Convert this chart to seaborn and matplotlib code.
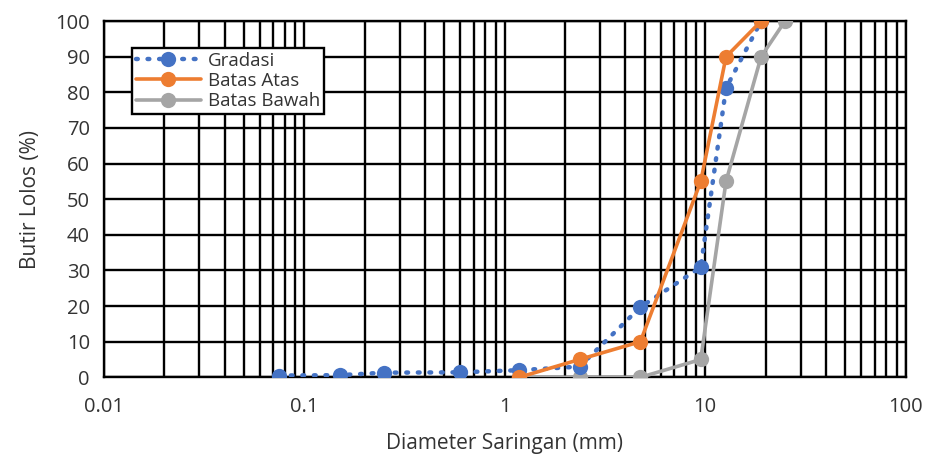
import matplotlib
matplotlib.use("Agg")
import matplotlib.pyplot as plt
import seaborn as sns
import numpy as np
import pandas as pd
from matplotlib.ticker import LogLocator, FixedLocator, FuncFormatter

# sieve sizes (mm) and passing percentages
gradasi_d = [0.075, 0.15, 0.25, 0.6, 1.18, 2.36, 4.75, 9.5, 12.7, 19.0]
gradasi_p = [0.5, 0.6, 1.3, 1.4, 2.0, 3.0, 19.7, 30.9, 81.2, 100.0]

atas_d = [1.18, 2.36, 4.75, 9.5, 12.7, 19.0]
atas_p = [0, 5, 10, 55, 90, 100]

bawah_d = [1.18, 2.36, 4.75, 9.5, 12.7, 19.0, 25.0]
bawah_p = [0, 0, 0, 5, 55, 90, 100]

sns.set_style("white")
plt.rcParams['font.family'] = ['Open Sans', 'DejaVu Sans']

fig, ax = plt.subplots(figsize=(9.27, 4.59), dpi=100)
fig.subplots_adjust(left=0.112, right=0.977, top=0.954, bottom=0.178)

blue = "#4472C4"
orange = "#ED7D31"
gray = "#A5A5A5"
txt = "#333333"

sns.lineplot(x=bawah_d, y=bawah_p, ax=ax, color=gray, linewidth=2.6, marker='o',
             markersize=11, markeredgewidth=0, sort=False, label="Batas Bawah", zorder=3)
sns.lineplot(x=gradasi_d, y=gradasi_p, ax=ax, color=blue, linewidth=3.2, marker='o',
             markersize=11, markeredgewidth=0, sort=False, label="Gradasi",
             linestyle=(0, (0.4, 2.2)), dash_capstyle='round', zorder=4)
sns.lineplot(x=atas_d, y=atas_p, ax=ax, color=orange, linewidth=2.6, marker='o',
             markersize=11, markeredgewidth=0, sort=False, label="Batas Atas", zorder=5)

ax.set_xscale('log')
ax.set_xlim(0.01, 100)
ax.set_ylim(0, 100)
ax.yaxis.set_major_locator(FixedLocator(np.arange(0, 101, 10)))
ax.xaxis.set_major_locator(LogLocator(base=10, numticks=10))
ax.xaxis.set_minor_locator(LogLocator(base=10, subs=np.arange(2, 10), numticks=20))
ax.xaxis.set_major_formatter(FuncFormatter(lambda v, p: f"{v:g}"))

ax.grid(True, which='both', color='black', linewidth=1.7)
ax.tick_params(axis='both', which='both', length=0, labelsize=14.5, colors=txt)
ax.tick_params(axis='y', pad=10)
ax.tick_params(axis='x', pad=14)
for s in ax.spines.values():
    s.set_color('black')
    s.set_linewidth(1.7)
ax.set_axisbelow(True)

ax.set_xlabel("Diameter Saringan (mm)", fontsize=15, color=txt, labelpad=12)
ax.set_ylabel("Butir Lolos (%)", fontsize=15, color=txt, labelpad=10)

handles, labels = ax.get_legend_handles_labels()
order = [labels.index(n) for n in ["Gradasi", "Batas Atas", "Batas Bawah"]]
leg = ax.legend([handles[i] for i in order], [labels[i] for i in order],
                loc='upper left', bbox_to_anchor=(0.035, 0.925), fontsize=13.5,
                frameon=True, fancybox=False, edgecolor='black', framealpha=1,
                borderpad=0.2, handlelength=3.5, handletextpad=0.35,
                labelspacing=0.12, borderaxespad=0)
leg.get_frame().set_linewidth(1.7)
for t in leg.get_texts():
    t.set_color(txt)

fig.savefig("out.png", dpi=100)
